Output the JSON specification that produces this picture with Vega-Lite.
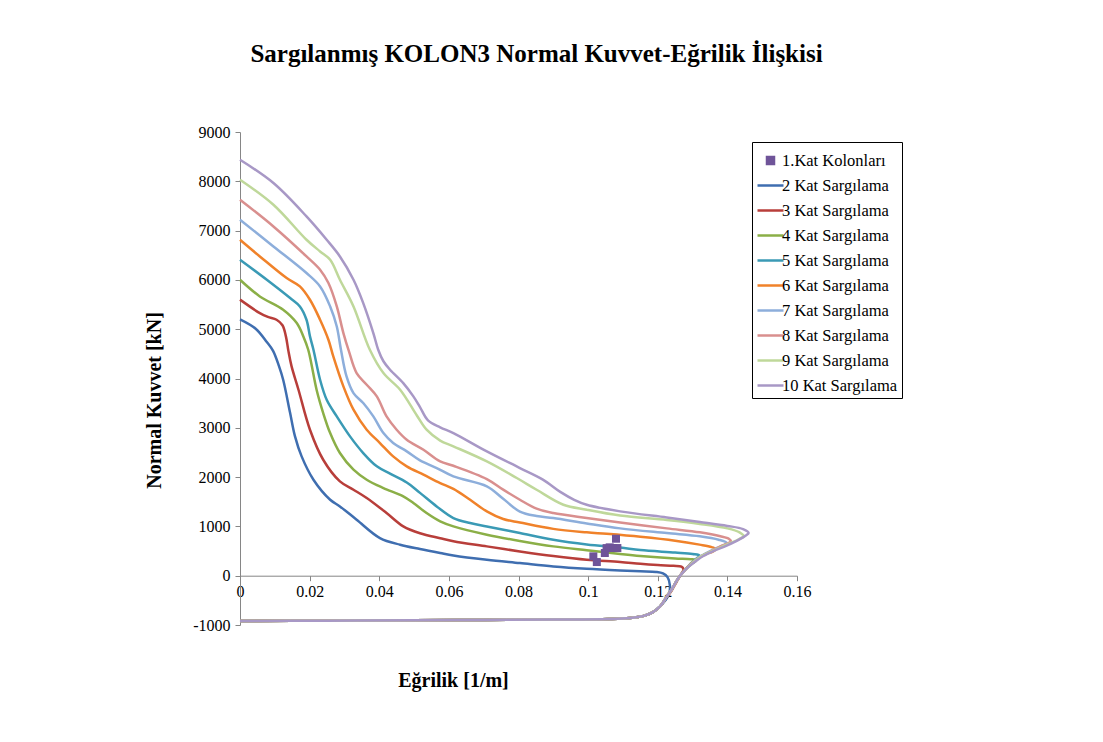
{
  "$schema": "https://vega.github.io/schema/vega-lite/v6.json",
  "width": 557,
  "height": 493,
  "autosize": {"type": "none"},
  "padding": {"left": 240, "top": 132, "right": 306, "bottom": 117},
  "background": "white",
  "config": {"view": {"stroke": null}, "font": "Liberation Serif"},
  "title": {
    "text": "Sargılanmış KOLON3 Normal Kuvvet-Eğrilik İlişkisi",
    "font": "Liberation Serif", "fontSize": 25, "fontWeight": "bold", "color": "black",
    "anchor": "middle", "frame": "group", "dx": 18, "offset": 57
  },
  "datasets": {
    "egriler": [
      {"seri":"2 Kat Sargılama","x":0,"y":5200},{"seri":"2 Kat Sargılama","x":0.0045,"y":5010},{"seri":"2 Kat Sargılama","x":0.0077,"y":4740},{"seri":"2 Kat Sargılama","x":0.0095,"y":4560},{"seri":"2 Kat Sargılama","x":0.0112,"y":4250},{"seri":"2 Kat Sargılama","x":0.0124,"y":3975},{"seri":"2 Kat Sargılama","x":0.0144,"y":3299},{"seri":"2 Kat Sargılama","x":0.0158,"y":2826},{"seri":"2 Kat Sargılama","x":0.0177,"y":2420},{"seri":"2 Kat Sargılama","x":0.0211,"y":1947},{"seri":"2 Kat Sargılama","x":0.0259,"y":1541},{"seri":"2 Kat Sargılama","x":0.0287,"y":1406},{"seri":"2 Kat Sargılama","x":0.0335,"y":1136},{"seri":"2 Kat Sargılama","x":0.0402,"y":764},{"seri":"2 Kat Sargılama","x":0.046,"y":629},{"seri":"2 Kat Sargılama","x":0.0517,"y":541},{"seri":"2 Kat Sargılama","x":0.0575,"y":460},{"seri":"2 Kat Sargılama","x":0.0613,"y":410},{"seri":"2 Kat Sargılama","x":0.0709,"y":324},{"seri":"2 Kat Sargılama","x":0.0804,"y":257},{"seri":"2 Kat Sargılama","x":0.09,"y":189},{"seri":"2 Kat Sargılama","x":0.0996,"y":140},{"seri":"2 Kat Sargılama","x":0.1092,"y":105},{"seri":"2 Kat Sargılama","x":0.115,"y":88},{"seri":"2 Kat Sargılama","x":0.1195,"y":75},{"seri":"2 Kat Sargılama","x":0.1215,"y":45},{"seri":"2 Kat Sargılama","x":0.1228,"y":-30},{"seri":"2 Kat Sargılama","x":0.1235,"y":-200},{"seri":"2 Kat Sargılama","x":0.1232,"y":-380},{"seri":"2 Kat Sargılama","x":0.1222,"y":-500},{"seri":"2 Kat Sargılama","x":0.1207,"y":-620},{"seri":"2 Kat Sargılama","x":0.1185,"y":-745},{"seri":"2 Kat Sargılama","x":0.116,"y":-815},{"seri":"2 Kat Sargılama","x":0.112,"y":-858},{"seri":"2 Kat Sargılama","x":0.106,"y":-878},{"seri":"2 Kat Sargılama","x":0.09,"y":-890},{"seri":"2 Kat Sargılama","x":0.07,"y":-898},{"seri":"2 Kat Sargılama","x":0.05,"y":-905},{"seri":"2 Kat Sargılama","x":0.025,"y":-912},{"seri":"2 Kat Sargılama","x":0,"y":-920},

      {"seri":"3 Kat Sargılama","x":0,"y":5600},{"seri":"3 Kat Sargılama","x":0.0057,"y":5327},{"seri":"3 Kat Sargılama","x":0.008,"y":5250},{"seri":"3 Kat Sargılama","x":0.0105,"y":5192},{"seri":"3 Kat Sargılama","x":0.0122,"y":5080},{"seri":"3 Kat Sargılama","x":0.0132,"y":4850},{"seri":"3 Kat Sargılama","x":0.0139,"y":4560},{"seri":"3 Kat Sargılama","x":0.0148,"y":4250},{"seri":"3 Kat Sargılama","x":0.0168,"y":3772},{"seri":"3 Kat Sargılama","x":0.0201,"y":2961},{"seri":"3 Kat Sargılama","x":0.0239,"y":2352},{"seri":"3 Kat Sargılama","x":0.0287,"y":1913},{"seri":"3 Kat Sargılama","x":0.0326,"y":1744},{"seri":"3 Kat Sargılama","x":0.0364,"y":1575},{"seri":"3 Kat Sargılama","x":0.0421,"y":1271},{"seri":"3 Kat Sargılama","x":0.0469,"y":1001},{"seri":"3 Kat Sargılama","x":0.0517,"y":860},{"seri":"3 Kat Sargılama","x":0.0575,"y":760},{"seri":"3 Kat Sargılama","x":0.0613,"y":700},{"seri":"3 Kat Sargılama","x":0.0709,"y":595},{"seri":"3 Kat Sargılama","x":0.0804,"y":493},{"seri":"3 Kat Sargılama","x":0.09,"y":400},{"seri":"3 Kat Sargılama","x":0.0996,"y":324},{"seri":"3 Kat Sargılama","x":0.1092,"y":280},{"seri":"3 Kat Sargılama","x":0.115,"y":240},{"seri":"3 Kat Sargılama","x":0.12,"y":215},{"seri":"3 Kat Sargılama","x":0.1245,"y":200},{"seri":"3 Kat Sargılama","x":0.1268,"y":185},{"seri":"3 Kat Sargılama","x":0.1274,"y":130},{"seri":"3 Kat Sargılama","x":0.1266,"y":20},{"seri":"3 Kat Sargılama","x":0.1253,"y":-140},{"seri":"3 Kat Sargılama","x":0.124,"y":-300},{"seri":"3 Kat Sargılama","x":0.1224,"y":-450},{"seri":"3 Kat Sargılama","x":0.1207,"y":-620},{"seri":"3 Kat Sargılama","x":0.1185,"y":-745},{"seri":"3 Kat Sargılama","x":0.116,"y":-815},{"seri":"3 Kat Sargılama","x":0.112,"y":-858},{"seri":"3 Kat Sargılama","x":0.106,"y":-878},{"seri":"3 Kat Sargılama","x":0.09,"y":-890},{"seri":"3 Kat Sargılama","x":0.07,"y":-898},{"seri":"3 Kat Sargılama","x":0.05,"y":-905},{"seri":"3 Kat Sargılama","x":0.025,"y":-912},{"seri":"3 Kat Sargılama","x":0,"y":-920},

      {"seri":"4 Kat Sargılama","x":0,"y":6003},{"seri":"4 Kat Sargılama","x":0.0057,"y":5665},{"seri":"4 Kat Sargılama","x":0.0124,"y":5395},{"seri":"4 Kat Sargılama","x":0.0163,"y":5124},{"seri":"4 Kat Sargılama","x":0.0182,"y":4854},{"seri":"4 Kat Sargılama","x":0.0196,"y":4583},{"seri":"4 Kat Sargılama","x":0.0205,"y":4300},{"seri":"4 Kat Sargılama","x":0.022,"y":3772},{"seri":"4 Kat Sargılama","x":0.0239,"y":3299},{"seri":"4 Kat Sargılama","x":0.0259,"y":2893},{"seri":"4 Kat Sargılama","x":0.0287,"y":2488},{"seri":"4 Kat Sargılama","x":0.0326,"y":2150},{"seri":"4 Kat Sargılama","x":0.0364,"y":1947},{"seri":"4 Kat Sargılama","x":0.0412,"y":1778},{"seri":"4 Kat Sargılama","x":0.0469,"y":1609},{"seri":"4 Kat Sargılama","x":0.0498,"y":1474},{"seri":"4 Kat Sargılama","x":0.0536,"y":1271},{"seri":"4 Kat Sargılama","x":0.0575,"y":1102},{"seri":"4 Kat Sargılama","x":0.0613,"y":1000},{"seri":"4 Kat Sargılama","x":0.0709,"y":832},{"seri":"4 Kat Sargılama","x":0.0804,"y":705},{"seri":"4 Kat Sargılama","x":0.09,"y":595},{"seri":"4 Kat Sargılama","x":0.0996,"y":515},{"seri":"4 Kat Sargılama","x":0.1092,"y":440},{"seri":"4 Kat Sargılama","x":0.115,"y":400},{"seri":"4 Kat Sargılama","x":0.125,"y":350},{"seri":"4 Kat Sargılama","x":0.1295,"y":335},{"seri":"4 Kat Sargılama","x":0.131,"y":310},{"seri":"4 Kat Sargılama","x":0.13,"y":250},{"seri":"4 Kat Sargılama","x":0.1287,"y":180},{"seri":"4 Kat Sargılama","x":0.1275,"y":90},{"seri":"4 Kat Sargılama","x":0.1264,"y":0},{"seri":"4 Kat Sargılama","x":0.1252,"y":-130},{"seri":"4 Kat Sargılama","x":0.124,"y":-280},{"seri":"4 Kat Sargılama","x":0.1226,"y":-420},{"seri":"4 Kat Sargılama","x":0.1207,"y":-620},{"seri":"4 Kat Sargılama","x":0.1185,"y":-745},{"seri":"4 Kat Sargılama","x":0.116,"y":-815},{"seri":"4 Kat Sargılama","x":0.112,"y":-858},{"seri":"4 Kat Sargılama","x":0.106,"y":-878},{"seri":"4 Kat Sargılama","x":0.09,"y":-890},{"seri":"4 Kat Sargılama","x":0.07,"y":-898},{"seri":"4 Kat Sargılama","x":0.05,"y":-905},{"seri":"4 Kat Sargılama","x":0.025,"y":-912},{"seri":"4 Kat Sargılama","x":0,"y":-920},

      {"seri":"5 Kat Sargılama","x":0,"y":6409},{"seri":"5 Kat Sargılama","x":0.0077,"y":6003},{"seri":"5 Kat Sargılama","x":0.0144,"y":5632},{"seri":"5 Kat Sargılama","x":0.0172,"y":5462},{"seri":"5 Kat Sargılama","x":0.0191,"y":5192},{"seri":"5 Kat Sargılama","x":0.0201,"y":4854},{"seri":"5 Kat Sargılama","x":0.0211,"y":4583},{"seri":"5 Kat Sargılama","x":0.023,"y":3975},{"seri":"5 Kat Sargılama","x":0.0249,"y":3569},{"seri":"5 Kat Sargılama","x":0.0278,"y":3231},{"seri":"5 Kat Sargılama","x":0.0316,"y":2826},{"seri":"5 Kat Sargılama","x":0.0354,"y":2488},{"seri":"5 Kat Sargılama","x":0.0393,"y":2218},{"seri":"5 Kat Sargılama","x":0.0431,"y":2070},{"seri":"5 Kat Sargılama","x":0.0479,"y":1890},{"seri":"5 Kat Sargılama","x":0.0517,"y":1680},{"seri":"5 Kat Sargılama","x":0.0565,"y":1406},{"seri":"5 Kat Sargılama","x":0.0613,"y":1170},{"seri":"5 Kat Sargılama","x":0.0661,"y":1068},{"seri":"5 Kat Sargılama","x":0.0709,"y":1000},{"seri":"5 Kat Sargılama","x":0.0804,"y":865},{"seri":"5 Kat Sargılama","x":0.09,"y":730},{"seri":"5 Kat Sargılama","x":0.0996,"y":635},{"seri":"5 Kat Sargılama","x":0.1092,"y":570},{"seri":"5 Kat Sargılama","x":0.115,"y":520},{"seri":"5 Kat Sargılama","x":0.125,"y":470},{"seri":"5 Kat Sargılama","x":0.13,"y":440},{"seri":"5 Kat Sargılama","x":0.132,"y":410},{"seri":"5 Kat Sargılama","x":0.131,"y":340},{"seri":"5 Kat Sargılama","x":0.1295,"y":250},{"seri":"5 Kat Sargılama","x":0.1285,"y":170},{"seri":"5 Kat Sargılama","x":0.1275,"y":90},{"seri":"5 Kat Sargılama","x":0.1264,"y":0},{"seri":"5 Kat Sargılama","x":0.1252,"y":-130},{"seri":"5 Kat Sargılama","x":0.124,"y":-280},{"seri":"5 Kat Sargılama","x":0.1226,"y":-420},{"seri":"5 Kat Sargılama","x":0.1207,"y":-620},{"seri":"5 Kat Sargılama","x":0.1185,"y":-745},{"seri":"5 Kat Sargılama","x":0.116,"y":-815},{"seri":"5 Kat Sargılama","x":0.112,"y":-858},{"seri":"5 Kat Sargılama","x":0.106,"y":-878},{"seri":"5 Kat Sargılama","x":0.09,"y":-890},{"seri":"5 Kat Sargılama","x":0.07,"y":-898},{"seri":"5 Kat Sargılama","x":0.05,"y":-905},{"seri":"5 Kat Sargılama","x":0.025,"y":-912},{"seri":"5 Kat Sargılama","x":0,"y":-920},

      {"seri":"6 Kat Sargılama","x":0,"y":6814},{"seri":"6 Kat Sargılama","x":0.0057,"y":6476},{"seri":"6 Kat Sargılama","x":0.0134,"y":6037},{"seri":"6 Kat Sargılama","x":0.0172,"y":5868},{"seri":"6 Kat Sargılama","x":0.0201,"y":5597},{"seri":"6 Kat Sargılama","x":0.023,"y":5192},{"seri":"6 Kat Sargılama","x":0.0254,"y":4786},{"seri":"6 Kat Sargılama","x":0.0268,"y":4448},{"seri":"6 Kat Sargılama","x":0.0297,"y":3840},{"seri":"6 Kat Sargılama","x":0.0326,"y":3367},{"seri":"6 Kat Sargılama","x":0.0364,"y":2961},{"seri":"6 Kat Sargılama","x":0.0402,"y":2691},{"seri":"6 Kat Sargılama","x":0.044,"y":2420},{"seri":"6 Kat Sargılama","x":0.0479,"y":2218},{"seri":"6 Kat Sargılama","x":0.0527,"y":2050},{"seri":"6 Kat Sargılama","x":0.0575,"y":1880},{"seri":"6 Kat Sargılama","x":0.0613,"y":1760},{"seri":"6 Kat Sargılama","x":0.0661,"y":1541},{"seri":"6 Kat Sargılama","x":0.0709,"y":1305},{"seri":"6 Kat Sargılama","x":0.0756,"y":1150},{"seri":"6 Kat Sargılama","x":0.0804,"y":1080},{"seri":"6 Kat Sargılama","x":0.09,"y":950},{"seri":"6 Kat Sargılama","x":0.0996,"y":880},{"seri":"6 Kat Sargılama","x":0.1053,"y":850},{"seri":"6 Kat Sargılama","x":0.115,"y":790},{"seri":"6 Kat Sargılama","x":0.125,"y":710},{"seri":"6 Kat Sargılama","x":0.132,"y":630},{"seri":"6 Kat Sargılama","x":0.1355,"y":580},{"seri":"6 Kat Sargılama","x":0.1368,"y":540},{"seri":"6 Kat Sargılama","x":0.1358,"y":490},{"seri":"6 Kat Sargılama","x":0.1338,"y":440},{"seri":"6 Kat Sargılama","x":0.1316,"y":360},{"seri":"6 Kat Sargılama","x":0.1298,"y":260},{"seri":"6 Kat Sargılama","x":0.1285,"y":170},{"seri":"6 Kat Sargılama","x":0.1275,"y":90},{"seri":"6 Kat Sargılama","x":0.1264,"y":0},{"seri":"6 Kat Sargılama","x":0.1252,"y":-130},{"seri":"6 Kat Sargılama","x":0.124,"y":-280},{"seri":"6 Kat Sargılama","x":0.1226,"y":-420},{"seri":"6 Kat Sargılama","x":0.1207,"y":-620},{"seri":"6 Kat Sargılama","x":0.1185,"y":-745},{"seri":"6 Kat Sargılama","x":0.116,"y":-815},{"seri":"6 Kat Sargılama","x":0.112,"y":-858},{"seri":"6 Kat Sargılama","x":0.106,"y":-878},{"seri":"6 Kat Sargılama","x":0.09,"y":-890},{"seri":"6 Kat Sargılama","x":0.07,"y":-898},{"seri":"6 Kat Sargılama","x":0.05,"y":-905},{"seri":"6 Kat Sargılama","x":0.025,"y":-912},{"seri":"6 Kat Sargılama","x":0,"y":-920},

      {"seri":"7 Kat Sargılama","x":0,"y":7220},{"seri":"7 Kat Sargılama","x":0.0096,"y":6679},{"seri":"7 Kat Sargılama","x":0.0191,"y":6139},{"seri":"7 Kat Sargılama","x":0.023,"y":5868},{"seri":"7 Kat Sargılama","x":0.0259,"y":5462},{"seri":"7 Kat Sargılama","x":0.0278,"y":5056},{"seri":"7 Kat Sargılama","x":0.029,"y":4583},{"seri":"7 Kat Sargılama","x":0.0306,"y":4042},{"seri":"7 Kat Sargılama","x":0.0326,"y":3704},{"seri":"7 Kat Sargılama","x":0.0354,"y":3502},{"seri":"7 Kat Sargılama","x":0.0383,"y":3231},{"seri":"7 Kat Sargılama","x":0.0412,"y":2893},{"seri":"7 Kat Sargılama","x":0.044,"y":2691},{"seri":"7 Kat Sargılama","x":0.0479,"y":2522},{"seri":"7 Kat Sargılama","x":0.0517,"y":2340},{"seri":"7 Kat Sargılama","x":0.0565,"y":2184},{"seri":"7 Kat Sargılama","x":0.0613,"y":2014},{"seri":"7 Kat Sargılama","x":0.0709,"y":1812},{"seri":"7 Kat Sargılama","x":0.0756,"y":1560},{"seri":"7 Kat Sargılama","x":0.0804,"y":1300},{"seri":"7 Kat Sargılama","x":0.0852,"y":1210},{"seri":"7 Kat Sargılama","x":0.09,"y":1170},{"seri":"7 Kat Sargılama","x":0.0996,"y":1060},{"seri":"7 Kat Sargılama","x":0.1092,"y":960},{"seri":"7 Kat Sargılama","x":0.1226,"y":865},{"seri":"7 Kat Sargılama","x":0.1321,"y":800},{"seri":"7 Kat Sargılama","x":0.1375,"y":730},{"seri":"7 Kat Sargılama","x":0.1398,"y":665},{"seri":"7 Kat Sargılama","x":0.139,"y":620},{"seri":"7 Kat Sargılama","x":0.137,"y":565},{"seri":"7 Kat Sargılama","x":0.1345,"y":480},{"seri":"7 Kat Sargılama","x":0.1318,"y":370},{"seri":"7 Kat Sargılama","x":0.13,"y":270},{"seri":"7 Kat Sargılama","x":0.1286,"y":170},{"seri":"7 Kat Sargılama","x":0.1275,"y":90},{"seri":"7 Kat Sargılama","x":0.1264,"y":0},{"seri":"7 Kat Sargılama","x":0.1252,"y":-130},{"seri":"7 Kat Sargılama","x":0.124,"y":-280},{"seri":"7 Kat Sargılama","x":0.1226,"y":-420},{"seri":"7 Kat Sargılama","x":0.1207,"y":-620},{"seri":"7 Kat Sargılama","x":0.1185,"y":-745},{"seri":"7 Kat Sargılama","x":0.116,"y":-815},{"seri":"7 Kat Sargılama","x":0.112,"y":-858},{"seri":"7 Kat Sargılama","x":0.106,"y":-878},{"seri":"7 Kat Sargılama","x":0.09,"y":-890},{"seri":"7 Kat Sargılama","x":0.07,"y":-898},{"seri":"7 Kat Sargılama","x":0.05,"y":-905},{"seri":"7 Kat Sargılama","x":0.025,"y":-912},{"seri":"7 Kat Sargılama","x":0,"y":-920},

      {"seri":"8 Kat Sargılama","x":0,"y":7625},{"seri":"8 Kat Sargılama","x":0.0096,"y":7084},{"seri":"8 Kat Sargılama","x":0.0191,"y":6476},{"seri":"8 Kat Sargılama","x":0.023,"y":6206},{"seri":"8 Kat Sargılama","x":0.0254,"y":5936},{"seri":"8 Kat Sargılama","x":0.0278,"y":5462},{"seri":"8 Kat Sargılama","x":0.0297,"y":4922},{"seri":"8 Kat Sargılama","x":0.0313,"y":4550},{"seri":"8 Kat Sargılama","x":0.0335,"y":4110},{"seri":"8 Kat Sargılama","x":0.0364,"y":3874},{"seri":"8 Kat Sargılama","x":0.0393,"y":3637},{"seri":"8 Kat Sargılama","x":0.0421,"y":3231},{"seri":"8 Kat Sargılama","x":0.045,"y":2961},{"seri":"8 Kat Sargılama","x":0.0479,"y":2758},{"seri":"8 Kat Sargılama","x":0.0527,"y":2555},{"seri":"8 Kat Sargılama","x":0.0575,"y":2318},{"seri":"8 Kat Sargılama","x":0.0613,"y":2230},{"seri":"8 Kat Sargılama","x":0.0709,"y":1960},{"seri":"8 Kat Sargılama","x":0.0756,"y":1745},{"seri":"8 Kat Sargılama","x":0.0804,"y":1541},{"seri":"8 Kat Sargılama","x":0.0852,"y":1360},{"seri":"8 Kat Sargılama","x":0.09,"y":1270},{"seri":"8 Kat Sargılama","x":0.0996,"y":1170},{"seri":"8 Kat Sargılama","x":0.1092,"y":1080},{"seri":"8 Kat Sargılama","x":0.1226,"y":960},{"seri":"8 Kat Sargılama","x":0.1321,"y":880},{"seri":"8 Kat Sargılama","x":0.138,"y":800},{"seri":"8 Kat Sargılama","x":0.1405,"y":745},{"seri":"8 Kat Sargılama","x":0.141,"y":700},{"seri":"8 Kat Sargılama","x":0.14,"y":650},{"seri":"8 Kat Sargılama","x":0.138,"y":595},{"seri":"8 Kat Sargılama","x":0.1355,"y":500},{"seri":"8 Kat Sargılama","x":0.1325,"y":390},{"seri":"8 Kat Sargılama","x":0.1303,"y":280},{"seri":"8 Kat Sargılama","x":0.1287,"y":180},{"seri":"8 Kat Sargılama","x":0.1275,"y":90},{"seri":"8 Kat Sargılama","x":0.1264,"y":0},{"seri":"8 Kat Sargılama","x":0.1252,"y":-130},{"seri":"8 Kat Sargılama","x":0.124,"y":-280},{"seri":"8 Kat Sargılama","x":0.1226,"y":-420},{"seri":"8 Kat Sargılama","x":0.1207,"y":-620},{"seri":"8 Kat Sargılama","x":0.1185,"y":-745},{"seri":"8 Kat Sargılama","x":0.116,"y":-815},{"seri":"8 Kat Sargılama","x":0.112,"y":-858},{"seri":"8 Kat Sargılama","x":0.106,"y":-878},{"seri":"8 Kat Sargılama","x":0.09,"y":-890},{"seri":"8 Kat Sargılama","x":0.07,"y":-898},{"seri":"8 Kat Sargılama","x":0.05,"y":-905},{"seri":"8 Kat Sargılama","x":0.025,"y":-912},{"seri":"8 Kat Sargılama","x":0,"y":-920},

      {"seri":"9 Kat Sargılama","x":0,"y":8031},{"seri":"9 Kat Sargılama","x":0.0096,"y":7524},{"seri":"9 Kat Sargılama","x":0.0191,"y":6814},{"seri":"9 Kat Sargılama","x":0.023,"y":6577},{"seri":"9 Kat Sargılama","x":0.0259,"y":6408},{"seri":"9 Kat Sargılama","x":0.0287,"y":6003},{"seri":"9 Kat Sargılama","x":0.0326,"y":5462},{"seri":"9 Kat Sargılama","x":0.0373,"y":4583},{"seri":"9 Kat Sargılama","x":0.0412,"y":4110},{"seri":"9 Kat Sargılama","x":0.046,"y":3772},{"seri":"9 Kat Sargılama","x":0.0508,"y":3250},{"seri":"9 Kat Sargılama","x":0.0536,"y":2961},{"seri":"9 Kat Sargılama","x":0.0575,"y":2740},{"seri":"9 Kat Sargılama","x":0.0613,"y":2624},{"seri":"9 Kat Sargılama","x":0.0709,"y":2318},{"seri":"9 Kat Sargılama","x":0.0795,"y":1981},{"seri":"9 Kat Sargılama","x":0.0852,"y":1744},{"seri":"9 Kat Sargılama","x":0.0929,"y":1440},{"seri":"9 Kat Sargılama","x":0.0996,"y":1338},{"seri":"9 Kat Sargılama","x":0.1092,"y":1220},{"seri":"9 Kat Sargılama","x":0.1226,"y":1130},{"seri":"9 Kat Sargılama","x":0.1321,"y":1050},{"seri":"9 Kat Sargılama","x":0.14,"y":960},{"seri":"9 Kat Sargılama","x":0.1435,"y":880},{"seri":"9 Kat Sargılama","x":0.1447,"y":800},{"seri":"9 Kat Sargılama","x":0.1435,"y":750},{"seri":"9 Kat Sargılama","x":0.1415,"y":680},{"seri":"9 Kat Sargılama","x":0.1385,"y":590},{"seri":"9 Kat Sargılama","x":0.135,"y":480},{"seri":"9 Kat Sargılama","x":0.1322,"y":380},{"seri":"9 Kat Sargılama","x":0.1303,"y":280},{"seri":"9 Kat Sargılama","x":0.1288,"y":180},{"seri":"9 Kat Sargılama","x":0.1275,"y":90},{"seri":"9 Kat Sargılama","x":0.1264,"y":0},{"seri":"9 Kat Sargılama","x":0.1252,"y":-130},{"seri":"9 Kat Sargılama","x":0.124,"y":-280},{"seri":"9 Kat Sargılama","x":0.1226,"y":-420},{"seri":"9 Kat Sargılama","x":0.1207,"y":-620},{"seri":"9 Kat Sargılama","x":0.1185,"y":-745},{"seri":"9 Kat Sargılama","x":0.116,"y":-815},{"seri":"9 Kat Sargılama","x":0.112,"y":-858},{"seri":"9 Kat Sargılama","x":0.106,"y":-878},{"seri":"9 Kat Sargılama","x":0.09,"y":-890},{"seri":"9 Kat Sargılama","x":0.07,"y":-898},{"seri":"9 Kat Sargılama","x":0.05,"y":-905},{"seri":"9 Kat Sargılama","x":0.025,"y":-912},{"seri":"9 Kat Sargılama","x":0,"y":-920},

      {"seri":"10 Kat Sargılama","x":0,"y":8436},{"seri":"10 Kat Sargılama","x":0.0096,"y":7964},{"seri":"10 Kat Sargılama","x":0.0191,"y":7287},{"seri":"10 Kat Sargılama","x":0.0249,"y":6814},{"seri":"10 Kat Sargılama","x":0.0287,"y":6476},{"seri":"10 Kat Sargılama","x":0.0326,"y":6003},{"seri":"10 Kat Sargılama","x":0.0354,"y":5530},{"seri":"10 Kat Sargılama","x":0.0383,"y":4922},{"seri":"10 Kat Sargılama","x":0.0397,"y":4583},{"seri":"10 Kat Sargılama","x":0.0412,"y":4350},{"seri":"10 Kat Sargılama","x":0.0431,"y":4178},{"seri":"10 Kat Sargılama","x":0.0469,"y":3907},{"seri":"10 Kat Sargılama","x":0.0498,"y":3637},{"seri":"10 Kat Sargılama","x":0.0517,"y":3420},{"seri":"10 Kat Sargılama","x":0.054,"y":3150},{"seri":"10 Kat Sargılama","x":0.0575,"y":3010},{"seri":"10 Kat Sargılama","x":0.0613,"y":2894},{"seri":"10 Kat Sargılama","x":0.0709,"y":2521},{"seri":"10 Kat Sargılama","x":0.0804,"y":2184},{"seri":"10 Kat Sargılama","x":0.087,"y":1950},{"seri":"10 Kat Sargılama","x":0.092,"y":1700},{"seri":"10 Kat Sargılama","x":0.096,"y":1540},{"seri":"10 Kat Sargılama","x":0.0996,"y":1440},{"seri":"10 Kat Sargılama","x":0.1092,"y":1305},{"seri":"10 Kat Sargılama","x":0.1226,"y":1180},{"seri":"10 Kat Sargılama","x":0.1321,"y":1090},{"seri":"10 Kat Sargılama","x":0.14,"y":1010},{"seri":"10 Kat Sargılama","x":0.1445,"y":945},{"seri":"10 Kat Sargılama","x":0.1461,"y":866},{"seri":"10 Kat Sargılama","x":0.1452,"y":810},{"seri":"10 Kat Sargılama","x":0.1436,"y":740},{"seri":"10 Kat Sargılama","x":0.1398,"y":610},{"seri":"10 Kat Sargılama","x":0.136,"y":500},{"seri":"10 Kat Sargılama","x":0.1331,"y":400},{"seri":"10 Kat Sargılama","x":0.131,"y":300},{"seri":"10 Kat Sargılama","x":0.129,"y":190},{"seri":"10 Kat Sargılama","x":0.1275,"y":90},{"seri":"10 Kat Sargılama","x":0.1264,"y":0},{"seri":"10 Kat Sargılama","x":0.1252,"y":-130},{"seri":"10 Kat Sargılama","x":0.124,"y":-280},{"seri":"10 Kat Sargılama","x":0.1226,"y":-420},{"seri":"10 Kat Sargılama","x":0.1207,"y":-620},{"seri":"10 Kat Sargılama","x":0.1185,"y":-745},{"seri":"10 Kat Sargılama","x":0.116,"y":-815},{"seri":"10 Kat Sargılama","x":0.112,"y":-858},{"seri":"10 Kat Sargılama","x":0.106,"y":-878},{"seri":"10 Kat Sargılama","x":0.09,"y":-890},{"seri":"10 Kat Sargılama","x":0.07,"y":-898},{"seri":"10 Kat Sargılama","x":0.05,"y":-905},{"seri":"10 Kat Sargılama","x":0.025,"y":-912},{"seri":"10 Kat Sargılama","x":0,"y":-920}
    ],
    "kolonlar": [
      {"seri":"1.Kat Kolonları","x":0.1015,"y":392},
      {"seri":"1.Kat Kolonları","x":0.1025,"y":277},
      {"seri":"1.Kat Kolonları","x":0.1048,"y":460},
      {"seri":"1.Kat Kolonları","x":0.1053,"y":560},
      {"seri":"1.Kat Kolonları","x":0.1062,"y":575},
      {"seri":"1.Kat Kolonları","x":0.1072,"y":561},
      {"seri":"1.Kat Kolonları","x":0.1084,"y":561},
      {"seri":"1.Kat Kolonları","x":0.108,"y":750}
    ]
  },
  "encoding": {
    "x": {
      "field": "x", "type": "quantitative",
      "scale": {"domain": [0, 0.16], "nice": false, "zero": false},
      "axis": {
        "values": [0, 0.02, 0.04, 0.06, 0.08, 0.1, 0.12, 0.14, 0.16],
        "labelExpr": "'' + datum.value",
        "labelFlush": false, "labelOverlap": false,
        "offset": -49.3, "grid": false,
        "domainColor": "#868686", "tickColor": "#868686", "tickSize": 5,
        "labelFont": "Liberation Serif", "labelFontSize": 16, "labelColor": "black", "labelPadding": 3,
        "title": "Eğrilik [1/m]", "titleFont": "Liberation Serif", "titleFontSize": 20, "titleFontWeight": "bold", "titleColor": "black",
        "titleX": 213, "titleY": 105, "titleBaseline": "middle", "titleAlign": "center"
      }
    },
    "y": {
      "field": "y", "type": "quantitative",
      "scale": {"domain": [-1000, 9000], "nice": false, "zero": false},
      "axis": {
        "values": [-1000, 0, 1000, 2000, 3000, 4000, 5000, 6000, 7000, 8000, 9000],
        "labelExpr": "'' + datum.value",
        "labelFlush": false, "labelOverlap": false,
        "grid": false,
        "domainColor": "#868686", "tickColor": "#868686", "tickSize": 5,
        "labelFont": "Liberation Serif", "labelFontSize": 16, "labelColor": "black", "labelPadding": 5,
        "title": "Normal Kuvvet [kN]", "titleFont": "Liberation Serif", "titleFontSize": 20, "titleFontWeight": "bold", "titleColor": "black",
        "titleAngle": -90, "titleX": -86, "titleY": 268, "titleBaseline": "middle", "titleAlign": "center"
      }
    },
    "color": {
      "field": "seri", "type": "nominal",
      "scale": {
        "domain": ["1.Kat Kolonları", "2 Kat Sargılama", "3 Kat Sargılama", "4 Kat Sargılama", "5 Kat Sargılama", "6 Kat Sargılama", "7 Kat Sargılama", "8 Kat Sargılama", "9 Kat Sargılama", "10 Kat Sargılama"],
        "range": ["#6F5499", "#3F6EB0", "#B83E3A", "#8BAF47", "#3A9AB5", "#F0822A", "#8DAEDB", "#D98F8E", "#BFD89A", "#A898C6"]
      },
      "legend": {
        "title": null, "orient": "none", "legendX": 512, "legendY": 10,
        "strokeColor": "black", "fillColor": "white", "padding": 4,
        "symbolType": "stroke", "symbolSize": 676, "symbolStrokeWidth": 2.5,
        "labelFont": "Liberation Serif", "labelFontSize": 16.5, "labelColor": "black",
        "labelOffset": -3, "rowPadding": 2,
        "encode": {
          "symbols": {
            "update": {
              "shape": {"signal": "datum.value === '1.Kat Kolonları' ? 'square' : 'stroke'"},
              "size": {"signal": "datum.value === '1.Kat Kolonları' ? 49 : 676"},
              "fill": {"signal": "datum.value === '1.Kat Kolonları' ? scale('color', datum.value) : 'transparent'"},
              "stroke": {"signal": "datum.value === '1.Kat Kolonları' ? 'transparent' : scale('color', datum.value)"},
              "strokeWidth": {"value": 2.5},
              "opacity": {"value": 1}
            }
          }
        }
      }
    }
  },
  "layer": [
    {
      "data": {"name": "egriler"},
      "mark": {"type": "line", "interpolate": "catmull-rom", "strokeWidth": 2.5},
      "encoding": {"order": {"value": null}}
    },
    {
      "data": {"name": "kolonlar"},
      "mark": {"type": "square", "size": 64, "opacity": 1, "filled": true}
    }
  ]
}
